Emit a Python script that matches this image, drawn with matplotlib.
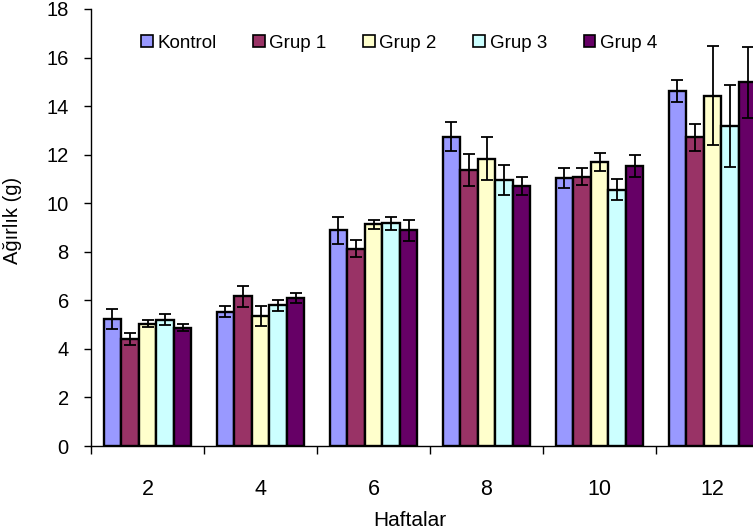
import numpy as np
import matplotlib
matplotlib.use("Agg")
import matplotlib.pyplot as plt
from matplotlib.patches import Patch

plt.rcParams['font.family'] = ['Liberation Sans', 'DejaVu Sans']

# data
weeks = ["2", "4", "6", "8", "10", "12"]
groups = ["Kontrol", "Grup 1", "Grup 2", "Grup 3", "Grup 4"]
colors = ["#9999FF", "#993366", "#FFFFCC", "#CCFFFF", "#660066"]

kontrol = [5.24, 5.53, 8.88, 12.74, 11.05, 14.61]
grup1 = [4.40, 6.16, 8.12, 11.37, 11.09, 12.71]
grup2 = [5.04, 5.37, 9.13, 11.84, 11.71, 14.43]
grup3 = [5.21, 5.79, 9.17, 10.97, 10.56, 13.20]
grup4 = [4.87, 6.10, 8.88, 10.71, 11.52, 14.98]

kontrol_err = [0.41, 0.23, 0.55, 0.59, 0.42, 0.45]
grup1_err = [0.26, 0.44, 0.35, 0.65, 0.35, 0.57]
grup2_err = [0.15, 0.41, 0.18, 0.90, 0.37, 2.05]
grup3_err = [0.21, 0.24, 0.26, 0.62, 0.42, 1.69]
grup4_err = [0.14, 0.22, 0.43, 0.39, 0.46, 1.47]

values = [kontrol, grup1, grup2, grup3, grup4]
errors = [kontrol_err, grup1_err, grup2_err, grup3_err, grup4_err]

fig = plt.figure(figsize=(7.53, 5.29), dpi=100)
# plot area runs past the right edge, as in the reference
ax = fig.add_axes([91 / 753, 1 - 446 / 529, 678 / 753, 437 / 529])

x = np.arange(len(weeks))
w = 0.155
for i, (vals, errs, col) in enumerate(zip(values, errors, colors)):
    pos = x + (i - 2) * w
    ax.bar(pos, vals, width=w, color=col, edgecolor="black", linewidth=1.7, zorder=2)
    ax.errorbar(pos, vals, yerr=errs, fmt="none", ecolor="black",
                elinewidth=1.3, capsize=4, capthick=1.3, zorder=3)

ax.set_xlim(-0.5, len(weeks) - 0.5)
ax.set_ylim(0, 18)
ax.set_yticks(np.arange(0, 19, 2))
ax.set_xticks(x)
ax.set_xticklabels(weeks)
ax.set_xticks(np.arange(-0.5, len(weeks)), minor=True)

for side in ["top", "right"]:
    ax.spines[side].set_visible(False)
for side in ["left", "bottom"]:
    ax.spines[side].set_linewidth(1.0)

ax.tick_params(axis="y", direction="out", length=5, width=1, labelsize=14.5, pad=11)
ax.tick_params(axis="x", which="major", length=0, labelsize=15.5, pad=24)
ax.tick_params(axis="x", which="minor", direction="out", length=6, width=1)

fig.text(13 / 753, 1 - 220 / 529, "Ağırlık (g)", rotation=90, fontsize=14.5,
         ha="center", va="center")
# x label sits at the very bottom edge
fig.text(410 / 753, 0.006, "Haftalar", fontsize=15, ha="center", va="baseline")

handles = [Patch(facecolor=c, edgecolor="black", linewidth=1.2) for c in colors]
fig.legend(handles, groups, loc="center", bbox_to_anchor=(399 / 753, 1 - 43 / 529),
           ncol=5, frameon=False, fontsize=13.5, handlelength=0.62, handleheight=0.62,
           handletextpad=0.25, columnspacing=1.95, borderaxespad=0)

fig.savefig("out.png", dpi=100)
